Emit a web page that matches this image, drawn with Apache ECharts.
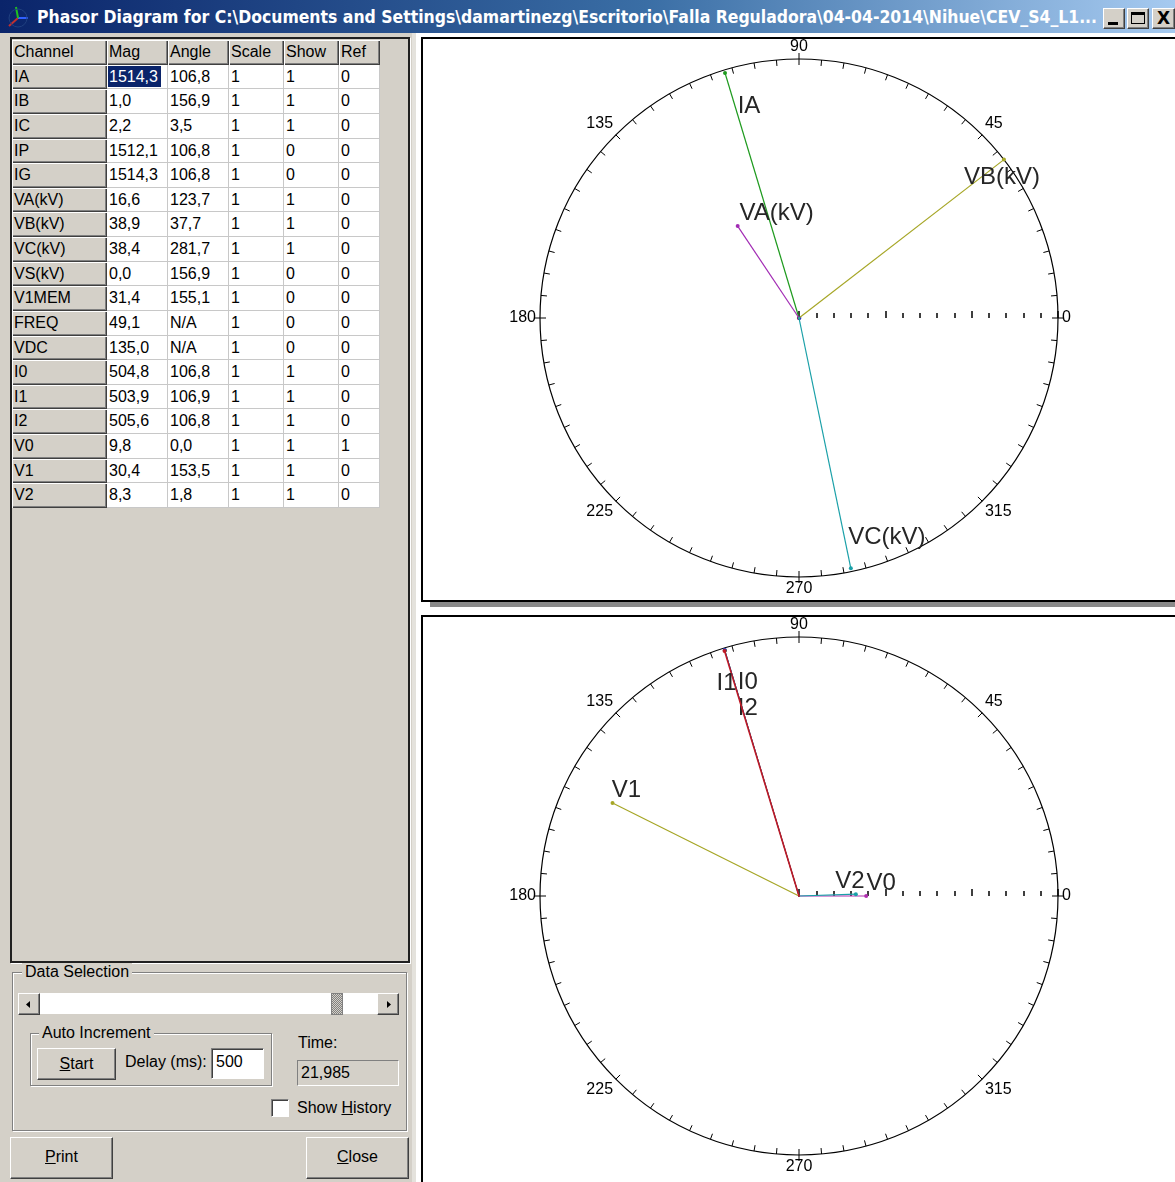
<!DOCTYPE html>
<html><head><meta charset="utf-8">
<script src="https://cdn.jsdelivr.net/npm/echarts@6/dist/echarts.min.js"></script>
<style>
body{margin:0;width:1175px;height:1182px;overflow:hidden;background:#d4d0c8;font-family:"Liberation Sans",Arial,sans-serif;position:relative;color:#000}
.a{position:absolute;box-sizing:border-box}
.raised{background:#d4d0c8;border:1px solid;border-color:#fff #404040 #404040 #fff;box-shadow:inset -1px -1px #808080}
.sunken{border:1px solid;border-color:#808080 #fff #fff #808080;box-shadow:inset 1px 1px #404040}
.grp{border:1px solid #808080;box-shadow:1px 1px #fff, inset 1px 1px #fff}
.lbl{font-size:16px;white-space:nowrap;line-height:18px}
.cell{position:absolute;box-sizing:border-box;font-size:16px;padding-left:2px;white-space:nowrap;overflow:hidden}
</style></head><body>
<div class="a" id="titlebar" style="left:0;top:0;width:1175px;height:33px;background:linear-gradient(90deg,#0a246a 0%,#3a6ea5 55%,#a6caf0 100%)"></div>
<div class="a" style="left:6px;top:6px;width:24px;height:22px">
 <svg width="24" height="22"><line x1="3" y1="20" x2="12" y2="12" stroke="#c03030" stroke-width="2"/><line x1="12" y1="12" x2="22" y2="12" stroke="#3060ff" stroke-width="2"/><line x1="12" y1="12" x2="10" y2="1" stroke="#20c020" stroke-width="2"/><circle cx="12" cy="12" r="9" fill="none" stroke="#204080" stroke-width="1"/></svg>
</div>
<div class="a" id="titletext" style="left:37px;top:6px;font-family:'DejaVu Sans',sans-serif;font-weight:bold;font-size:17px;color:#fff;white-space:nowrap;transform-origin:0 0;line-height:22px"></div>
<div class="a raised" style="left:1103px;top:8px;width:22px;height:21px"><div class="a" style="left:4px;top:13px;width:10px;height:3px;background:#000"></div></div>
<div class="a raised" style="left:1127px;top:8px;width:22px;height:21px"><div class="a" style="left:3px;top:3px;width:14px;height:12px;border:1px solid #000;border-top-width:3px"></div></div>
<div class="a raised" style="left:1152px;top:8px;width:23px;height:21px;font:bold 17px 'DejaVu Sans';text-align:center;line-height:18px">X</div>

<!-- left frame -->
<div class="a" style="left:10px;top:37px;width:400px;height:926px;border:2px solid #202020;box-shadow:1px 1px #fff"></div>
<div id="table"></div>

<!-- Data selection group -->
<div class="a grp" style="left:12px;top:972px;width:395px;height:159px"></div>
<div class="a lbl" style="left:22px;top:963px;background:#d4d0c8;padding:0 3px">Data Selection</div>
<div class="a" style="left:18px;top:993px;width:381px;height:22px;background:#fff;border-bottom:1px solid #d4d0c8"></div>
<div class="a raised" style="left:18px;top:993px;width:22px;height:22px"><svg class="a" style="left:6px;top:6px" width="8" height="9"><polygon points="5,1 5,8 1,4.5" fill="#000"/></svg></div>
<div class="a raised" style="left:377px;top:993px;width:22px;height:22px"><svg class="a" style="left:7px;top:6px" width="8" height="9"><polygon points="2,1 2,8 6,4.5" fill="#000"/></svg></div>
<div class="a" style="left:331px;top:993px;width:12px;height:22px;background:repeating-conic-gradient(#808080 0 25%,#d4d0c8 0 50%) 0 0/2px 2px;border:1px solid #808080"></div>

<div class="a grp" style="left:30px;top:1033px;width:242px;height:53px"></div>
<div class="a lbl" style="left:39px;top:1024px;background:#d4d0c8;padding:0 3px">Auto Increment</div>
<div class="a raised lbl" style="left:37px;top:1048px;width:79px;height:32px;text-align:center;line-height:29px"><u>S</u>tart</div>
<div class="a lbl" style="left:125px;top:1053px">Delay (ms):</div>
<div class="a sunken lbl" style="left:211px;top:1048px;width:53px;height:31px;background:#fff;padding:4px 0 0 4px">500</div>
<div class="a lbl" style="left:298px;top:1034px">Time:</div>
<div class="a lbl" style="left:297px;top:1060px;width:102px;height:26px;border:1px solid;border-color:#808080 #fff #fff #808080;padding:3px 0 0 3px">21,985</div>
<div class="a sunken" style="left:271px;top:1099px;width:18px;height:18px;background:#fff"></div>
<div class="a lbl" style="left:297px;top:1099px">Show <u>H</u>istory</div>
<div class="a raised lbl" style="left:10px;top:1137px;width:103px;height:42px;text-align:center;line-height:38px"><u>P</u>rint</div>
<div class="a raised lbl" style="left:306px;top:1137px;width:103px;height:42px;text-align:center;line-height:38px"><u>C</u>lose</div>

<!-- right area -->
<div class="a" style="left:412px;top:33px;width:763px;height:1149px;background:#fff;border-left:4px solid #e4e2dc"></div>
<div class="a" style="left:430px;top:601px;width:745px;height:6px;background:#8a8a8a"></div>
<div class="a" style="left:421px;top:37px;width:760px;height:565px;border:2px solid #000;background:#fff"></div>
<div class="a" style="left:421px;top:615px;width:760px;height:567px;border:2px solid #000;border-bottom:none;background:#fff"></div>
<div class="a" id="chart" style="left:421px;top:37px;width:754px;height:1145px"></div>

<script>
// ---------------- data ----------------
const titleText = 'Phasor Diagram for C:\\Documents and Settings\\damartinezg\\Escritorio\\Falla Reguladora\\04-04-2014\\Nihue\\CEV_S4_L1...';
const headers = ['Channel','Mag','Angle','Scale','Show','Ref'];
const channels = ['IA','IB','IC','IP','IG','VA(kV)','VB(kV)','VC(kV)','VS(kV)','V1MEM','FREQ','VDC','I0','I1','I2','V0','V1','V2'];
const mags   = [1514.3, 1.0, 2.2, 1512.1, 1514.3, 16.6, 38.9, 38.4, 0.0, 31.4, 49.1, 135.0, 504.8, 503.9, 505.6, 9.8, 30.4, 8.3];
const angles = [106.8, 156.9, 3.5, 106.8, 106.8, 123.7, 37.7, 281.7, 156.9, 155.1, null, null, 106.8, 106.9, 106.8, 0.0, 153.5, 1.8];
const scales = [1,1,1,1,1,1,1,1,1,1,1,1,1,1,1,1,1,1];
const shows  = [1,1,1,0,0,1,1,1,0,0,0,0,1,1,1,1,1,1];
const refs   = [0,0,0,0,0,0,0,0,0,0,0,0,0,0,0,1,0,0];
const angleTickLabels = ['0','45','90','135','180','225','270','315'];
const topChannels = ['IA','IB','IC','VA(kV)','VB(kV)','VC(kV)'];
const bottomChannels = ['I0','I1','I2','V0','V1','V2'];

// ---------------- styles / layout ----------------
const colors = {'IA':'#1e9a1e','IB':'#c0202c','IC':'#2034c0','VA(kV)':'#a22cb4','VB(kV)':'#a6a626','VC(kV)':'#1aa0a8',
  'I0':'#1e9a1e','I2':'#2034c0','I1':'#c01a26','V0':'#b030b0','V1':'#a6a626','V2':'#1aa0a8'};
const labelOffsets = {'IA':[24,33],'VA(kV)':[39,-13],'VB(kV)':[-2,18],'VC(kV)':[36,-31],
  'I0':[23,32],'I1':[2,32],'I2':[23,58],'V0':[15,-13],'V1':[14,-13],'V2':[-6,-13]};
const drawOrder = {'I0':0,'I2':1,'I1':2,'V0':0,'V2':1};
const fmt = v => (v === null ? 'N/A' : v.toFixed(1).replace('.', ','));

// title
const tt = document.getElementById('titletext');
tt.textContent = titleText;
tt.style.transform = 'scaleX(' + (1060 / tt.getBoundingClientRect().width) + ')';

// table
const colLeft = [12,107,168,229,284,339], colW = [95,61,61,55,55,41];
const rowH = 24.63, top0 = 40;
const tbl = document.getElementById('table');
function cell(r, c, text, fixed, sel){
  const d = document.createElement('div');
  d.className = 'cell';
  d.style.left = colLeft[c] + 'px'; d.style.top = (top0 + r*rowH) + 'px';
  d.style.width = colW[c] + 'px'; d.style.height = rowH + 'px';
  d.style.lineHeight = rowH + 'px';
  if (fixed) { d.style.background = '#d4d0c8'; d.style.boxShadow = 'inset 1px 1px #fff, inset -1px -1px #404040, inset -2px -2px #808080'; }
  else { d.style.background = '#fff'; d.style.borderRight = '1px solid #c8c8c8'; d.style.borderBottom = '1px solid #c8c8c8'; }
  const s = document.createElement('span'); s.textContent = text;
  if (sel) { s.style.background = '#0a246a'; s.style.color = '#fff'; s.style.padding = '2px 3px 2px 1px'; s.style.marginLeft='-1px'; }
  d.appendChild(s); tbl.appendChild(d);
}
headers.forEach((h, c) => cell(0, c, h, true));
channels.forEach((ch, i) => {
  const row = [ch, fmt(mags[i]), fmt(angles[i]), String(scales[i]), String(shows[i]), String(refs[i])];
  row.forEach((t, c) => cell(i + 1, c, t, c === 0, i === 0 && c === 1));
});

// ---------------- chart ----------------
const R = 259;
const centers = [[378, 281], [378, 859]];
function scaleMax(list, prefix, extra){
  // full-scale of the circle for the group, from the largest shown magnitude
  let m = 0; list.forEach(ch => { const i = channels.indexOf(ch); if (ch[0] === prefix) m = Math.max(m, mags[i]); });
  return m * extra;
}
const vMaxTop = scaleMax(topChannels, 'V', 1.0), iMaxTop = scaleMax(topChannels, 'I', 1.012);
const vMaxBot = scaleMax(bottomChannels, 'V', 1.243), iMaxBot = scaleMax(bottomChannels, 'I', 1.008);
const radMax = [vMaxTop, iMaxTop, vMaxBot, iMaxBot];

const polar = [0,0,1,1].map(k => ({center: centers[k], radius: R}));
const angleAxis = [0,1,2,3].map(p => {
  const main = p % 2 === 0;
  return {
    polarIndex: p, type: 'value', min: 0, max: 360, interval: main ? 5 : 90,
    startAngle: 0, clockwise: false, z: 1,
    axisLine: {show: main, lineStyle: {color: '#000', width: 1.2}},
    axisTick: {show: true, inside: main, length: 6, lineStyle: {color: '#000', width: 1}},
    axisLabel: {show: main, margin: 4, color: '#000', fontSize: 16, fontFamily: 'Liberation Sans',
      formatter: v => (angleTickLabels.indexOf(String(v)) >= 0 && v < 360 ? String(v) : '')},
    splitLine: {show: false}
  };
});
const radiusAxis = [0,1,2,3].map(p => {
  const ticks = p % 2 === 1;
  return {
    polarIndex: p, type: 'value', min: 0, max: radMax[p], interval: radMax[p] / 3,
    axisLine: {show: false}, axisLabel: {show: false}, splitLine: {show: false},
    axisTick: {show: ticks, length: 7, lineStyle: {color: '#000', width: 1.5}},
    minorTick: {show: ticks, splitNumber: 5, length: 5, lineStyle: {color: '#000', width: 1.5}}
  };
});
const series = [];
function addSeries(list, voltPolar, curPolar){
  const items = list.map(ch => ch).sort((a, b) => (drawOrder[a] || 0) - (drawOrder[b] || 0));
  items.forEach(ch => {
    const i = channels.indexOf(ch);
    if (!shows[i]) return;
    const pIdx = ch[0] === 'V' ? voltPolar : curPolar;
    const off = labelOffsets[ch];
    series.push({
      type: 'line', name: ch, coordinateSystem: 'polar', polarIndex: pIdx,
      color: colors[ch], z: 5 + series.length,
      lineStyle: {width: ch === 'I1' ? 1.6 : (ch === 'I2' || ch === 'I0' ? 1 : 1.2), color: colors[ch]},
      symbol: 'circle', showSymbol: true,
      data: [
        {value: [0, angles[i]], symbolSize: 2},
        {value: [mags[i] * scales[i], angles[i]], symbolSize: 4,
         label: {show: !!off, formatter: ch, position: 'inside', offset: off || [0,0],
           color: '#262626', fontSize: 24, fontFamily: 'Liberation Sans'}}
      ]
    });
  });
}
addSeries(topChannels, 0, 1);
addSeries(bottomChannels, 2, 3);

const chart = echarts.init(document.getElementById('chart'), null, {renderer: 'canvas'});
chart.setOption({animation: false, backgroundColor: 'transparent', polar, angleAxis, radiusAxis, series});
</script>
</body></html>
